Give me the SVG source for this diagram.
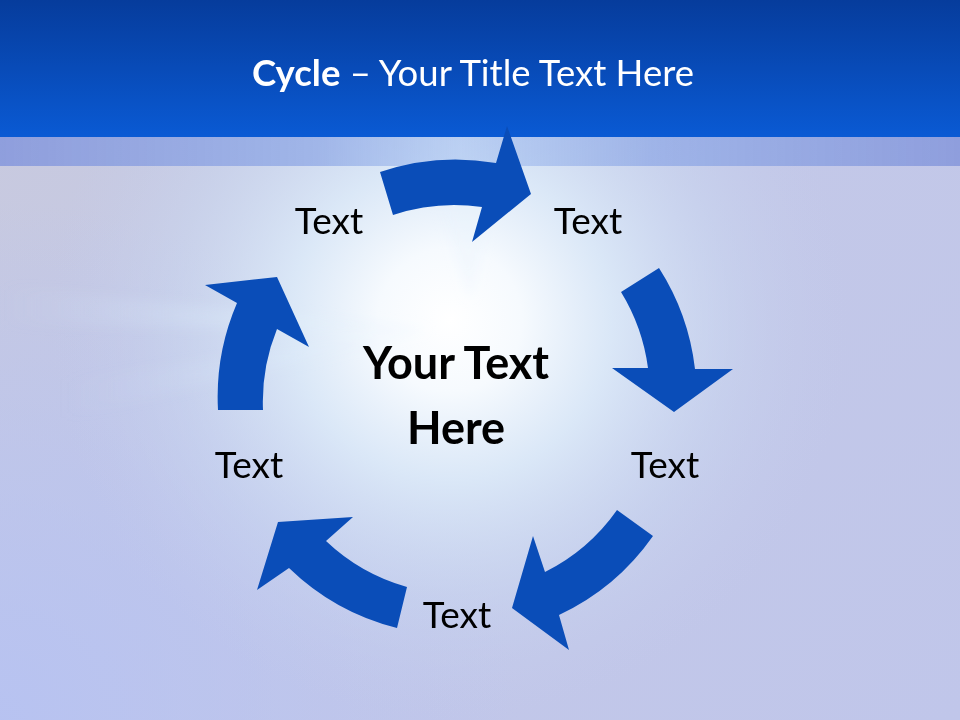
<svg xmlns="http://www.w3.org/2000/svg" width="960" height="720" viewBox="0 0 960 720">
<defs>
<style>
.arrow{fill:#0A4DB8;}
.lbl{font-family:Lato,"Open Sans","Liberation Sans",sans-serif;font-size:37px;fill:#000;text-anchor:middle;}
.ctr{font-family:Lato,"Open Sans","Liberation Sans",sans-serif;font-size:45px;font-weight:bold;fill:#000;text-anchor:middle;}
.ttl{font-family:Lato,"Open Sans","Liberation Sans",sans-serif;font-size:36.5px;fill:#fff;text-anchor:middle;}
</style>
<linearGradient id="hdr" x1="0" y1="0" x2="0" y2="1">
<stop offset="0" stop-color="#063C9C"/>
<stop offset="1" stop-color="#0A5AD4"/>
</linearGradient>
<linearGradient id="bg" x1="0" y1="0" x2="1" y2="1">
<stop offset="0" stop-color="#C9CADD"/>
<stop offset="0.5" stop-color="#C3C8E8"/>
<stop offset="1" stop-color="#C0C6EA"/>
</linearGradient>
<radialGradient id="bgl" cx="0" cy="720" r="520" gradientUnits="userSpaceOnUse">
<stop offset="0" stop-color="#B6C2F2" stop-opacity="0.9"/>
<stop offset="1" stop-color="#B6C2F2" stop-opacity="0"/>
</radialGradient>
<radialGradient id="glow" cx="450" cy="320" r="400" gradientUnits="userSpaceOnUse">
<stop offset="0" stop-color="#FFFFFF"/>
<stop offset="0.18" stop-color="#F6FAFE"/>
<stop offset="0.4" stop-color="#DDEBF9" stop-opacity="0.9"/>
<stop offset="0.7" stop-color="#CCDAF2" stop-opacity="0.45"/>
<stop offset="1" stop-color="#C4CCEC" stop-opacity="0"/>
</radialGradient>
<linearGradient id="ray" x1="1" y1="0" x2="0" y2="0">
<stop offset="0" stop-color="#E8F4FC" stop-opacity="0.9"/>
<stop offset="1" stop-color="#D8ECFA" stop-opacity="0"/>
</linearGradient>
<filter id="soft" x="-20%" y="-50%" width="140%" height="200%">
<feGaussianBlur stdDeviation="6"/>
</filter>
<linearGradient id="band" x1="0" y1="0" x2="1" y2="0">
<stop offset="0" stop-color="#8C9CDC" stop-opacity="0.95"/>
<stop offset="0.33" stop-color="#94ACE6" stop-opacity="0.8"/>
<stop offset="0.48" stop-color="#A4C0F0" stop-opacity="0.55"/>
<stop offset="0.68" stop-color="#94ACE6" stop-opacity="0.8"/>
<stop offset="1" stop-color="#8C9CDC" stop-opacity="0.95"/>
</linearGradient>
</defs>

<g id="background">
<rect x="0" y="0" width="960" height="720" fill="url(#bg)"/>
<rect x="0" y="0" width="960" height="720" fill="url(#bgl)"/>
<rect x="0" y="0" width="960" height="720" fill="url(#glow)"/>
<g filter="url(#soft)">
<polygon points="430,330 0,285 0,325" fill="url(#ray)" opacity="0.6"/>
<polygon points="430,330 60,380 60,420" fill="url(#ray)" opacity="0.35"/>
<polygon points="470,300 430,166 500,166" fill="#E8F4FC" opacity="0.35"/>
</g>
<rect x="0" y="137" width="960" height="29" fill="url(#band)"/>
<rect x="0" y="0" width="960" height="137" fill="url(#hdr)"/>
</g>

<g id="title">
<text class="ttl" x="473" y="86"><tspan font-weight="bold">Cycle</tspan> – Your Title Text Here</text>
</g>

<g id="connectors">
<path class="arrow" d="M380,172 A237,237 0 0 1 496,163 L507,126 L531,194 L472,242 L482,207 A194,194 0 0 0 393,215 Z"/>
<path class="arrow" d="M659,268 A238,238 0 0 1 695,369 L733,369 L674,412 L612,368 L648,368 A194,194 0 0 0 621,292 Z"/>
<path class="arrow" d="M653,536 A238,238 0 0 1 559,615 L569,650 L512,608 L533,536 L545,572 A194,194 0 0 0 617,510 Z"/>
<path class="arrow" d="M397,628 A238,238 0 0 1 289,568 L257,590 L278,522 L353,517 L326,541 A194,194 0 0 0 407,587 Z"/>
<path class="arrow" d="M218,410 A238,238 0 0 1 237,303 L205,285 L277,277 L309,347 L277,329 A194,194 0 0 0 263,410 Z"/>
</g>

<g id="center">
<text class="ctr" x="456" y="379">Your Text</text>
<text class="ctr" x="456" y="444">Here</text>
</g>
<g id="node-top-left"><text class="lbl" x="329" y="234">Text</text></g>
<g id="node-top-right"><text class="lbl" x="588" y="234">Text</text></g>
<g id="node-right"><text class="lbl" x="665" y="478">Text</text></g>
<g id="node-bottom"><text class="lbl" x="457" y="628">Text</text></g>
<g id="node-left"><text class="lbl" x="249" y="478">Text</text></g>
</svg>
